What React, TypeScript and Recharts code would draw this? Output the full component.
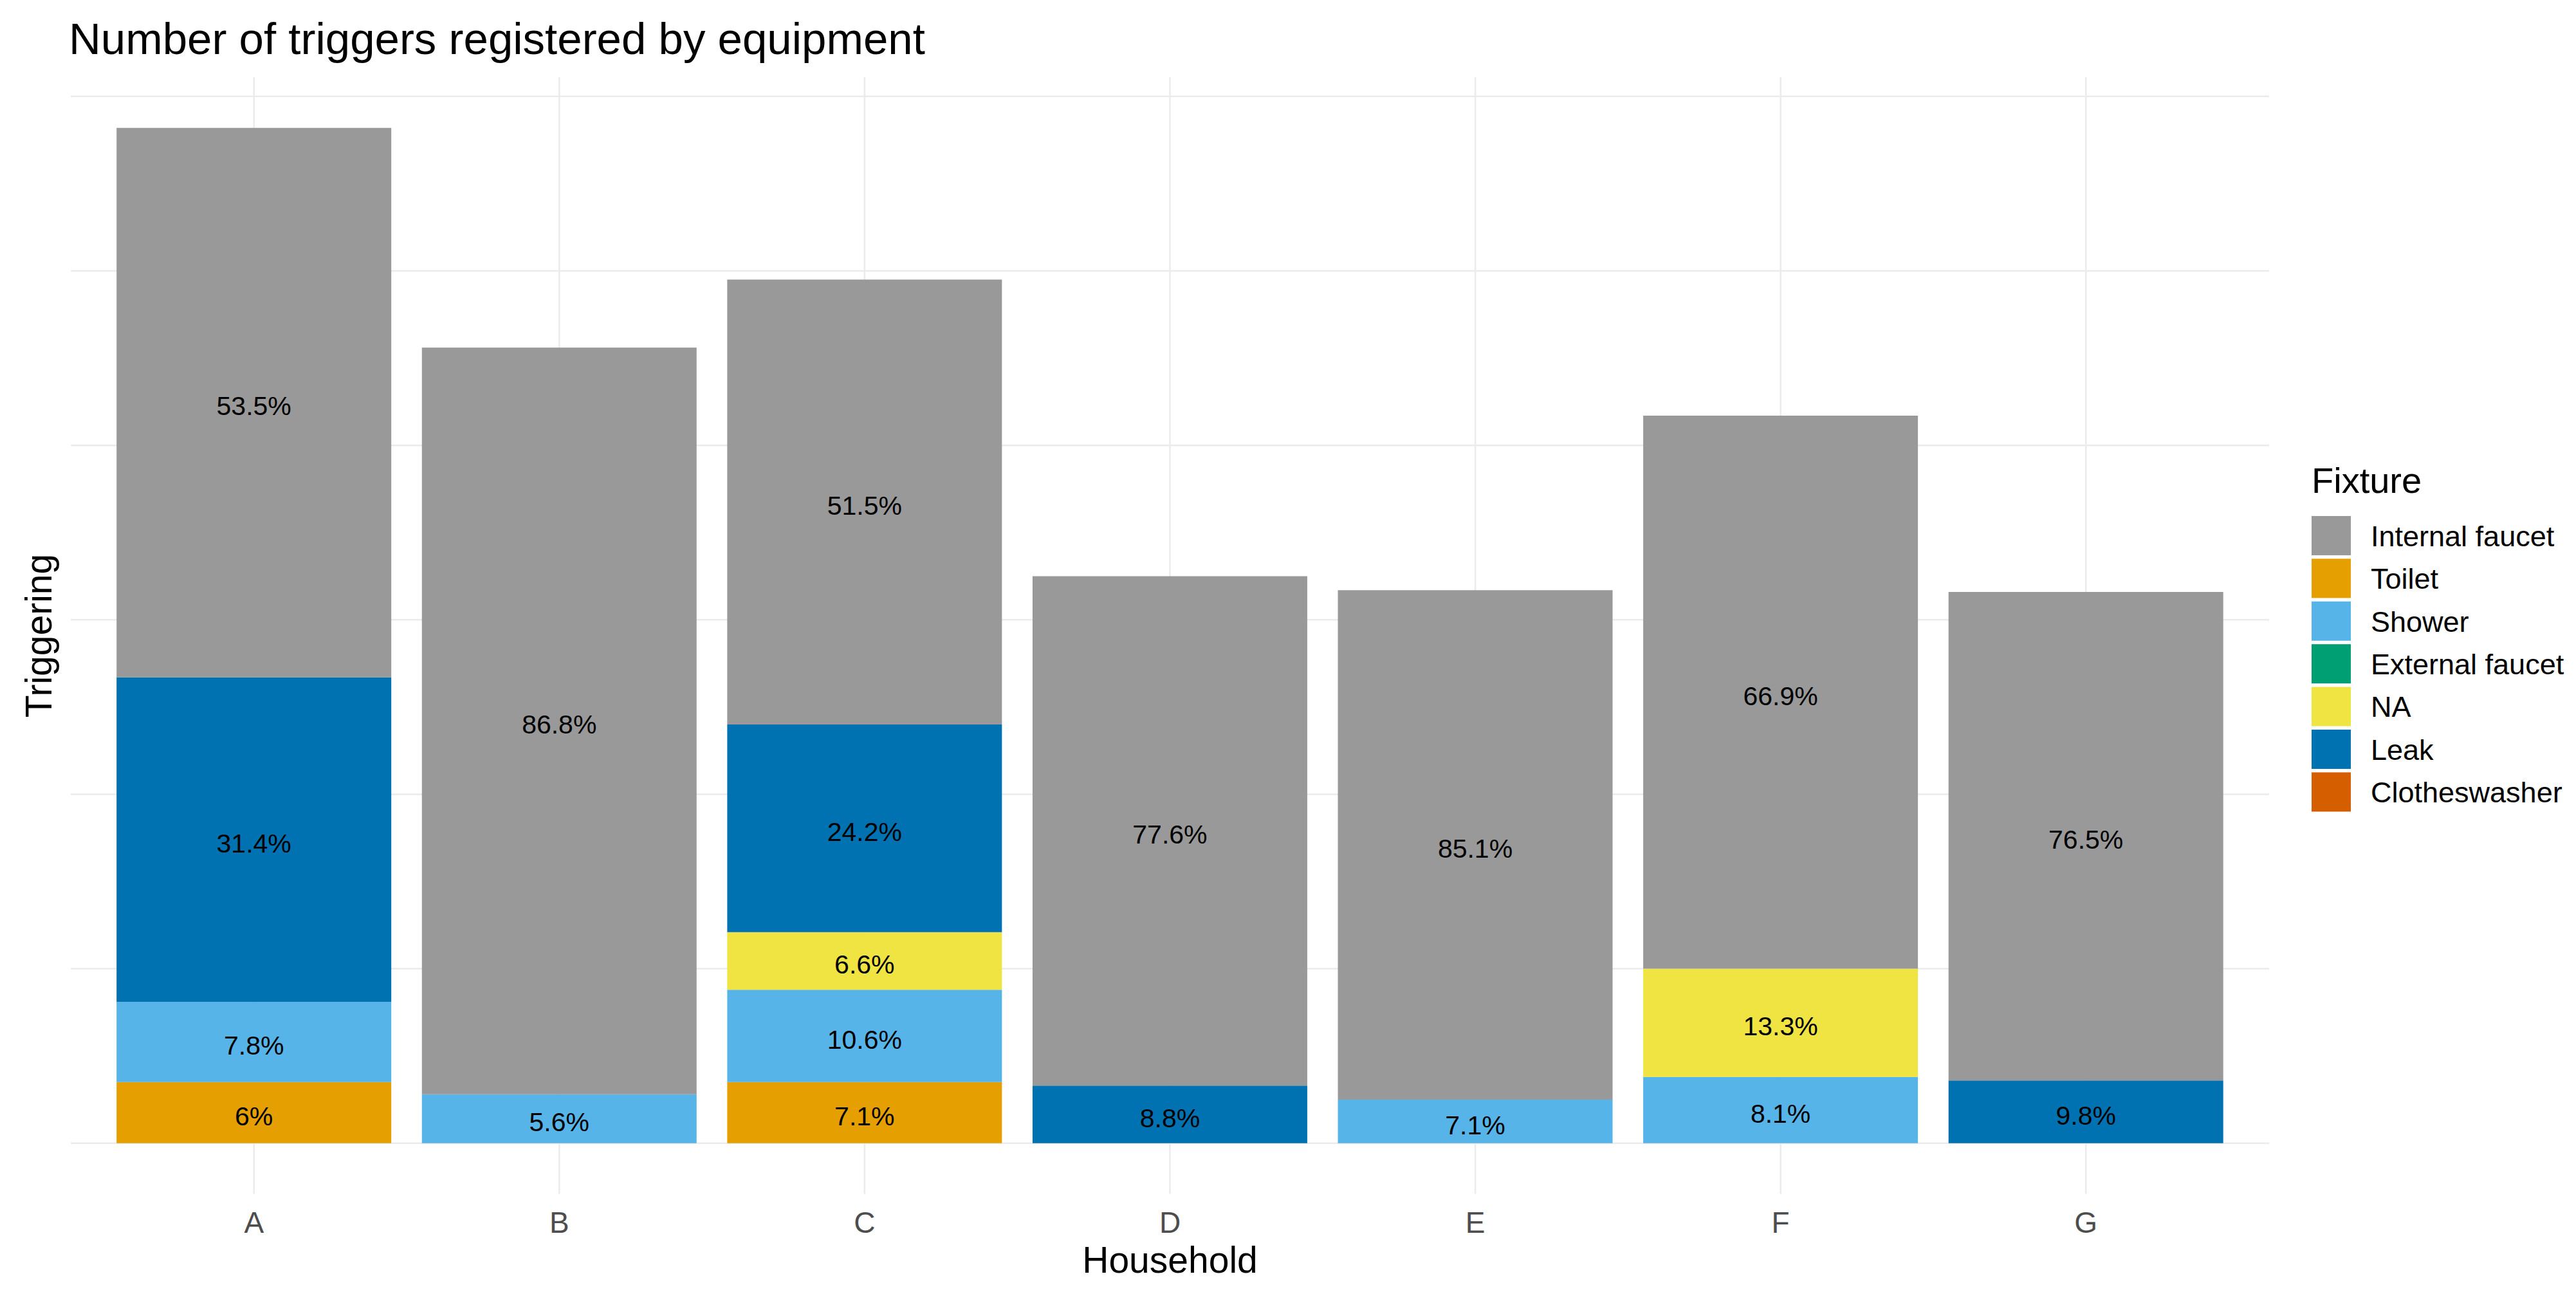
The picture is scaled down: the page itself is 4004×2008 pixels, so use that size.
import React from "react";
import { BarChart, Bar, XAxis, YAxis, CartesianGrid, LabelList } from "recharts";

const HOUSEHOLDS = ["A", "B", "C", "D", "E", "F", "G"];

// trigger counts per fixture
const TOILET = [35, 0, 35, 0, 0, 0, 0];
const SHOWER = [46, 28, 53, 0, 25, 38, 0];
const EXTERNAL = [0, 0, 0, 0, 0, 0, 0];
const NA_VALUES = [0, 0, 33, 0, 0, 62, 0];
const LEAK = [186, 0, 119, 33, 0, 0, 36];
const CLOTHES = [0, 0, 0, 0, 0, 0, 0];
const INTERNAL = [315, 428, 255, 292, 292, 317, 280];

// percentage labels printed in the segments
const TOILET_PCT = ["6%", "", "7.1%", "", "", "", ""];
const SHOWER_PCT = ["7.8%", "5.6%", "10.6%", "", "7.1%", "8.1%", ""];
const NA_PCT = ["", "", "6.6%", "", "", "13.3%", ""];
const LEAK_PCT = ["31.4%", "", "24.2%", "8.8%", "", "", "9.8%"];
const INTERNAL_PCT = ["53.5%", "86.8%", "51.5%", "77.6%", "85.1%", "66.9%", "76.5%"];

const Y_TICKS = [0, 100, 200, 300, 400, 500, 600];

// legend order
const FIXTURES = [
  { name: "Internal faucet", color: "#999999" },
  { name: "Toilet", color: "#E69F00" },
  { name: "Shower", color: "#56B4E9" },
  { name: "External faucet", color: "#009E73" },
  { name: "NA", color: "#F0E442" },
  { name: "Leak", color: "#0072B2" },
  { name: "Clotheswasher", color: "#D55E00" },
];

// stacking order, bottom to top
const SERIES = [
  { key: "clothes", values: CLOTHES, labels: null, color: "#D55E00" },
  { key: "toilet", values: TOILET, labels: TOILET_PCT, color: "#E69F00" },
  { key: "shower", values: SHOWER, labels: SHOWER_PCT, color: "#56B4E9" },
  { key: "external", values: EXTERNAL, labels: null, color: "#009E73" },
  { key: "na", values: NA_VALUES, labels: NA_PCT, color: "#F0E442" },
  { key: "leak", values: LEAK, labels: LEAK_PCT, color: "#0072B2" },
  { key: "internal", values: INTERNAL, labels: INTERNAL_PCT, color: "#999999" },
];

const rows = HOUSEHOLDS.map((h, i) => {
  const row: Record<string, string | number> = { household: h };
  SERIES.forEach((s) => {
    row[s.key] = s.values[i];
    row[s.key + "Label"] = s.labels ? s.labels[i] : "";
  });
  return row;
});

const FONT = '"Liberation Sans", Arial, sans-serif';

function SegmentLabel(props: any) {
  const vb = props.viewBox ?? props;
  const { x, y, width, height } = vb;
  if (!props.value || !height) return null;
  return (
    <text
      x={x + width / 2}
      y={y + height / 2}
      dy="0.48em"
      textAnchor="middle"
      fontSize={41}
      fontFamily={FONT}
      fill="#000"
    >
      {props.value}
    </text>
  );
}

function HouseholdTick(props: any) {
  const { x, payload } = props;
  return (
    <text x={x} y={1916} textAnchor="middle" fontSize={46} fontFamily={FONT} fill="#4D4D4D">
      {payload.value}
    </text>
  );
}

// y axis has no labels in the original, but the ticks still drive the grid
function NoTick() {
  return <g />;
}

export default function App() {
  return (
    <div style={{ position: "absolute", left: 0, top: 0, width: 4004, height: 2008, background: "#fff" }}>
      <BarChart
        width={4004}
        height={2008}
        data={rows}
        margin={{ top: 120, right: 477, bottom: 92.6, left: 110 }}
        barCategoryGap="5%"
      >
        <CartesianGrid stroke="#EBEBEB" strokeWidth={2.5} fill="none" syncWithTicks />
        <XAxis
          dataKey="household"
          axisLine={false}
          tickLine={false}
          height={60}
          interval={0}
          padding={{ left: 47.45, right: 47.45 }}
          tick={<HouseholdTick />}
        />
        <YAxis
          type="number"
          width={0}
          domain={[-29, 611]}
          allowDataOverflow
          ticks={Y_TICKS}
          interval={0}
          axisLine={false}
          tickLine={false}
          tick={<NoTick />}
        />
        {SERIES.map((s) => (
          <Bar key={s.key} dataKey={s.key} stackId="fixture" fill={s.color} isAnimationActive={false}>
            <LabelList dataKey={s.key + "Label"} content={<SegmentLabel />} />
          </Bar>
        ))}
      </BarChart>
      <svg
        width={4004}
        height={2008}
        style={{ position: "absolute", left: 0, top: 0, pointerEvents: "none" }}
        fontFamily={FONT}
      >
        <text x={107} y={84} fontSize={69} fill="#000">
          Number of triggers registered by equipment
        </text>
        <text x={1818.5} y={1978} fontSize={57} textAnchor="middle" fill="#000">
          Household
        </text>
        <text x={80} y={988} fontSize={57} textAnchor="middle" fill="#000" transform="rotate(-90 80 988)">
          Triggering
        </text>
        <text x={3593} y={766} fontSize={56} fill="#000">
          Fixture
        </text>
        {FIXTURES.map((f, i) => (
          <g key={f.name}>
            <rect x={3593} y={802 + i * 66.4} width={61} height={61} fill={f.color} />
            <text x={3685} y={832.5 + i * 66.4} dy="0.36em" fontSize={45} fill="#000">
              {f.name}
            </text>
          </g>
        ))}
      </svg>
    </div>
  );
}
